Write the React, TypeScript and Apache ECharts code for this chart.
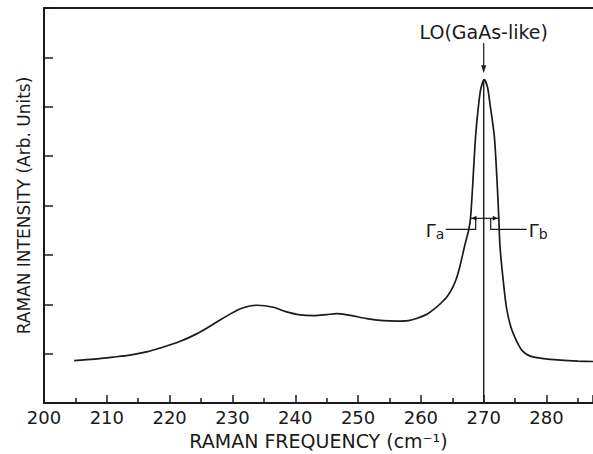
import React, { useEffect, useRef } from "react";
import * as echarts from "echarts";

// Raman spectrum
const freq = [
  204.8, 208, 211, 213.7, 216.5, 218.9, 221.5, 224.3, 227, 229.6, 231.5, 233.9,
  236.5, 238.5, 240.5, 243, 245, 246.6, 248.5, 251.4, 254, 256.2, 258, 259.3,
  261, 262, 263, 264.1, 264.9, 265.6, 266.2, 267, 267.6, 267.9, 268.2, 268.7,
  269.2, 269.6, 270.1, 270.6, 271, 271.7, 272.2, 272.4, 272.6, 273.1, 273.6,
  274.3, 275.3, 276.2, 277.4, 279.5, 282.2, 285, 287.4,
];
const intensity = [
  0.86, 0.89, 0.93, 0.97, 1.04, 1.13, 1.24, 1.4, 1.6, 1.8, 1.92, 1.98, 1.94,
  1.85, 1.79, 1.77, 1.79, 1.81, 1.78, 1.71, 1.67, 1.66, 1.67, 1.71, 1.8, 1.89,
  2.0, 2.14, 2.3, 2.5, 2.76, 3.2, 3.5, 3.74, 4.31, 5.39, 6.06, 6.4, 6.55, 6.4,
  6.06, 5.39, 4.31, 3.74, 3.16, 2.49, 1.95, 1.55, 1.24, 1.05, 0.95, 0.9, 0.87,
  0.85, 0.84,
];

const peakFreq = 270;
const peakValue = 6.55;
const halfLevel = 3.74; // height of the Γa / Γb arrows
const gammaLeftFreq = 267.9;
const gammaRightFreq = 272.4;

const FONT = "DejaVu Sans";
const INK = "#1a1a1a";

export default function App() {
  const ref = useRef<HTMLDivElement>(null);
  useEffect(() => {
    if (!ref.current) return;
    const chart = echarts.init(ref.current, undefined, { renderer: "svg" });
    const data = freq.map((f, i) => [f, intensity[i]]);
    chart.setOption({
      animation: false,
      backgroundColor: "#ffffff",
      grid: { left: 44, top: 8, right: 0, bottom: 51, containLabel: false, outerBoundsMode: "none" },
      xAxis: [
        {
          type: "value",
          min: 200,
          max: 287.4,
          interval: 10,
          name: "RAMAN FREQUENCY (cm⁻¹)",
          nameLocation: "middle",
          nameGap: 28,
          nameTextStyle: { fontFamily: FONT, fontSize: 19, color: INK },
          axisLine: { show: true, lineStyle: { color: INK, width: 2 } },
          axisTick: { show: true, inside: true, length: 8, lineStyle: { color: INK, width: 1.5 } },
          minorTick: { show: true, splitNumber: 2, length: 5, lineStyle: { color: INK, width: 1.5 } },
          axisLabel: { fontFamily: FONT, fontSize: 18, color: INK, margin: 5, showMaxLabel: false },
          splitLine: { show: false },
        },
        {
          type: "value",
          position: "top",
          min: 200,
          max: 287.4,
          axisLine: { show: true, lineStyle: { color: INK, width: 2 } },
          axisTick: { show: false },
          axisLabel: { show: false },
          splitLine: { show: false },
        },
      ],
      yAxis: {
        type: "value",
        min: 0,
        max: 8,
        interval: 1,
        name: "RAMAN INTENSITY (Arb. Units)",
        nameLocation: "middle",
        nameGap: 12,
        nameTextStyle: { fontFamily: FONT, fontSize: 17, color: INK },
        axisLine: { show: true, lineStyle: { color: INK, width: 2 } },
        axisTick: { show: true, inside: true, length: 9, lineStyle: { color: INK, width: 1.5 } },
        axisLabel: { show: false },
        splitLine: { show: false },
      },
      series: [
        {
          type: "line",
          data,
          smooth: 0.25,
          showSymbol: false,
          lineStyle: { color: INK, width: 1.7 },
        },
        {
          type: "line",
          data: [
            [peakFreq, 0],
            [peakFreq, peakValue],
          ],
          showSymbol: false,
          lineStyle: { color: INK, width: 1.4 },
        },
      ],
    });

    const px = (x: number, y: number) => chart.convertToPixel({ gridIndex: 0 }, [x, y]) as number[];
    const top = px(peakFreq, 7.29);
    const tip = px(peakFreq, 6.68);
    const lbl = px(peakFreq, 7.51);
    const aL = px(gammaLeftFreq, halfLevel);
    const aR = px(gammaRightFreq, halfLevel);
    const c = px(peakFreq, halfLevel);
    const legY = aL[1] + 11;
    const lVx = c[0] - 8;
    const rVx = c[0] + 7;
    const stroke = { stroke: INK, lineWidth: 1.2 };
    const arrow = (x: number, y: number, dir: number) => ({
      type: "polygon",
      shape: { points: [[x, y], [x - dir * 5, y - 2.5], [x - dir * 5, y + 2.5]] },
      style: { fill: INK },
    });
    chart.setOption({
      graphic: [
        {
          type: "text",
          x: lbl[0],
          y: lbl[1],
          style: {
            text: "LO(GaAs-like)",
            fontFamily: FONT,
            fontSize: 19,
            fill: INK,
            align: "center",
            verticalAlign: "middle",
          },
        },
        { type: "line", shape: { x1: top[0], y1: top[1], x2: tip[0], y2: tip[1] - 6 }, style: stroke },
        {
          type: "polygon",
          shape: { points: [[tip[0], tip[1]], [tip[0] - 2.5, tip[1] - 8], [tip[0] + 2.5, tip[1] - 8]] },
          style: { fill: INK },
        },
        { type: "line", shape: { x1: aL[0], y1: aL[1], x2: aR[0], y2: aR[1] }, style: stroke },
        arrow(aL[0] + 1, aL[1], -1),
        arrow(aR[0] - 1, aR[1], 1),
        { type: "polyline", shape: { points: [[lVx, aL[1]], [lVx, legY], [c[0] - 38, legY]] }, style: { ...stroke, fill: "none" } },
        { type: "polyline", shape: { points: [[rVx, aR[1]], [rVx, legY], [c[0] + 43, legY]] }, style: { ...stroke, fill: "none" } },
        {
          type: "text",
          x: c[0] - 58,
          y: legY + 1,
          style: {
            text: "Γ{s|a}",
            fontFamily: FONT,
            fontSize: 18,
            fill: INK,
            verticalAlign: "middle",
            rich: { s: { fontFamily: FONT, fontSize: 14, fill: INK, padding: [8, 0, 0, 0] } },
          },
        },
        {
          type: "text",
          x: c[0] + 45,
          y: legY + 1,
          style: {
            text: "Γ{s|b}",
            fontFamily: FONT,
            fontSize: 18,
            fill: INK,
            verticalAlign: "middle",
            rich: { s: { fontFamily: FONT, fontSize: 14, fill: INK, padding: [8, 0, 0, 0] } },
          },
        },
      ],
    });
    return () => chart.dispose();
  }, []);
  return (
    <div
      ref={ref}
      style={{ position: "fixed", left: 0, top: 0, width: 593, height: 454, background: "#fff" }}
    />
  );
}
